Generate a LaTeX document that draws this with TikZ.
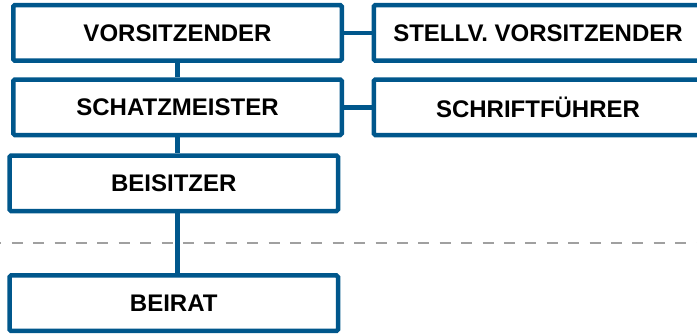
\documentclass[tikz,border=0pt]{standalone}
\usepackage{fontspec}
\setmainfont{Liberation Sans}
\definecolor{orgblue}{RGB}{0,87,140}
\definecolor{sepgrey}{RGB}{160,160,160}
\begin{document}
\begin{tikzpicture}[x=1pt,y=-1pt,
  box/.style={draw=orgblue, line width=4.5pt, rounded corners=1.5pt, fill=white,
    minimum width=328.5pt, minimum height=55.5pt, inner sep=0pt,
    font=\fontsize{24}{28}\selectfont\bfseries, text=black},
  link/.style={draw=orgblue, line width=4.5pt},
  sep/.style={draw=sepgrey, line width=2.8pt, dash pattern=on 11pt off 10.4pt, dash phase=9.7pt}]
\useasboundingbox (0,0) rectangle (697,333);
\clip (0,0) rectangle (697,333);
\coordinate (sepL) at (0,243);
\coordinate (sepR) at (697,243);
\draw[sep] (sepL) -- (sepR);
\node[box] (vors) at (177.5,32.9) {VORSITZENDER};
\node[box] (stv) at (538,32.9) {STELLV. VORSITZENDER};
\node[box] (schatz) at (177.5,107.3) {SCHATZMEISTER};
\node[box] (schrift) at (538,107.3) {SCHRIFTFÜHRER};
\node[box] (beis) at (173.75,183.3) {BEISITZER};
\node[box] (beirat) at (173.75,303.2) {BEIRAT};
\draw[link] (vors.east) -- (stv.west);
\draw[link] (schatz.east) -- (schrift.west);
\draw[link] (vors.south) -- (schatz.north);
\draw[link] (schatz.south) -- (schatz.south |- beis.north);
\draw[link] (schatz.south |- beis.south) -- (schatz.south |- beirat.north);
\end{tikzpicture}
\end{document}
